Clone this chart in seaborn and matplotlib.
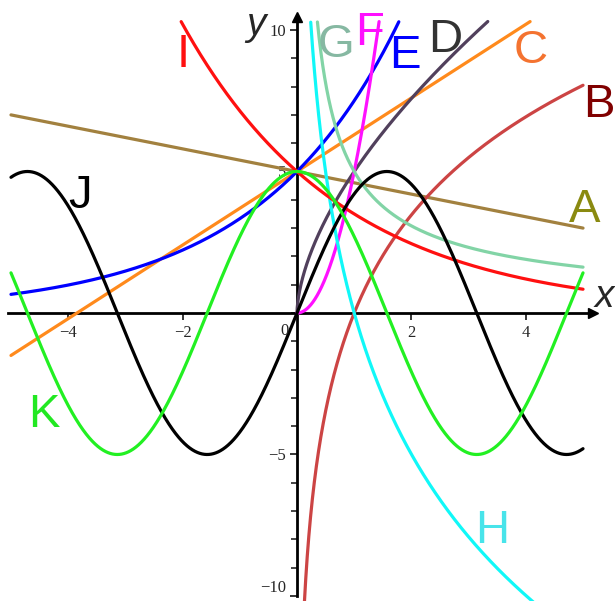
import numpy as np
import pandas as pd
import seaborn as sns
import matplotlib.pyplot as plt

# --- values ---
amp = 5.0                      # every curve passes through y=5 (at x=0 or x=1)
line_names = ['A', 'C']
line_slopes = [-0.4, 1.3]      # y = 5 + m*x
exp_names = ['E', 'I']
exp_bases = [1.5, 0.7]         # y = 5 * b**x
pow_names = ['D', 'F', 'G']
pow_exps = [0.6, 2.0, -0.7]    # y = 5 * x**p
log_names = ['B', 'H']
log_coefs = [5.0, -7.2]        # y = k * ln(x)
trig_names = ['J', 'K']        # 5 sin x, 5 cos x

x_min, x_max = -5, 5
y_clip = 10.3

line_colors = {'A': '#a2813f', 'B': '#cc4444', 'C': '#ff8a1c', 'D': '#51405c',
               'E': '#0000ff', 'F': '#ff10ff', 'G': '#82d4a6', 'H': '#10f8f8',
               'I': '#ff1010', 'J': '#000000', 'K': '#22f022'}
label_colors = {'A': '#8a8a10', 'B': '#800000', 'C': '#f47330', 'D': '#333333',
                'E': '#0000ff', 'F': '#ff10ff', 'G': '#86b8a2', 'H': '#48e4ea',
                'I': '#ff1010', 'J': '#000000', 'K': '#22e822'}
label_pos = {'A': (5.02, 3.22), 'B': (5.28, 6.93), 'C': (4.09, 8.83),
             'D': (2.59, 9.22), 'E': (1.89, 8.66), 'F': (1.26, 9.47),
             'G': (0.68, 9.05), 'H': (3.41, -8.13), 'I': (-1.99, 8.69),
             'J': (-3.79, 3.71), 'K': (-4.42, -4.03)}

# build the curves
xs = np.linspace(x_min, x_max, 2001)
xp = np.linspace(0.001, x_max, 5000)
frames = []
for n, m in zip(line_names, line_slopes):
    frames.append(pd.DataFrame({'x': xs, 'y': amp + m * xs, 'curve': n}))
for n, b in zip(exp_names, exp_bases):
    frames.append(pd.DataFrame({'x': xs, 'y': amp * b ** xs, 'curve': n}))
for n, p in zip(pow_names, pow_exps):
    xx = np.concatenate([[0.0], xp]) if p > 0 else xp
    frames.append(pd.DataFrame({'x': xx, 'y': amp * xx ** p, 'curve': n}))
for n, k in zip(log_names, log_coefs):
    frames.append(pd.DataFrame({'x': xp, 'y': k * np.log(xp), 'curve': n}))
frames.append(pd.DataFrame({'x': xs, 'y': amp * np.sin(xs), 'curve': 'J'}))
frames.append(pd.DataFrame({'x': xs, 'y': amp * np.cos(xs), 'curve': 'K'}))
df = pd.concat(frames, ignore_index=True)
df = df[df['y'].abs() <= y_clip]

sns.set_theme(style='white')
plt.rcParams['font.family'] = ['Liberation Serif', 'DejaVu Serif']

fig = plt.figure(figsize=(6.15, 6.01), dpi=100)
ax = fig.add_axes([0, 0, 1, 1])

order = ['A', 'B', 'C', 'D', 'E', 'F', 'G', 'H', 'I', 'J', 'K']
sns.lineplot(data=df, x='x', y='y', hue='curve', hue_order=order,
             palette=line_colors, estimator=None, legend=False,
             lw=2.3, ax=ax)

ax.set_xlim(-5.192, 5.559)
ax.set_ylim(-10.177, 11.06)

# maple style axes through the origin
for s in ['top', 'right']:
    ax.spines[s].set_visible(False)
ax.spines['left'].set_position(('data', 0))
ax.spines['bottom'].set_position(('data', 0))
ax.spines['left'].set_bounds(-10, 10.35)
ax.spines['bottom'].set_bounds(-5.05, 5.1)
for s in ['left', 'bottom']:
    ax.spines[s].set_linewidth(2.0)
    ax.spines[s].set_color('black')
    ax.spines[s].set_zorder(1)
ax.plot(0, 10.45, marker='^', ms=7, color='black', clip_on=False)
ax.plot(5.17, 0, marker='>', ms=7, color='black', clip_on=False)

ax.set_xticks([-4, -2, 2, 4])
ax.set_xticklabels(['\u22124', '\u22122', '2', '4'])
ax.set_yticks([-10, -5, 5, 10])
ax.set_yticklabels(['\u221210', '\u22125', '5', '10'])
ax.set_yticks(np.arange(-10, 11, 1), minor=True)
ax.tick_params(axis='x', direction='out', length=5, width=1.3, pad=4,
               labelsize=12, bottom=True)
ax.tick_params(axis='y', which='major', direction='out', length=5, width=1.3,
               pad=3, labelsize=12, left=True)
ax.tick_params(axis='y', which='minor', direction='out', length=4, width=1.2,
               left=True)
ax.get_yticklabels()[0].set_va('bottom')   # keep -10 inside the canvas
ax.set_xlabel('')
ax.set_ylabel('')
ax.grid(False)
ax.text(-0.21, -0.62, '0', fontsize=12, ha='center', va='center')

ax.text(5.37, 0.2, 'x', fontsize=28, style='italic', family='Liberation Sans',
        ha='center', va='baseline')
ax.text(-0.72, 9.82, 'y', fontsize=28, style='italic', family='Liberation Sans',
        ha='center', va='baseline')

for n in order:
    px, py = label_pos[n]
    ax.text(px, py, n, color=label_colors[n], fontsize=34,
            family='Liberation Sans', ha='center', va='baseline')

fig.savefig('out.png', dpi=100)
